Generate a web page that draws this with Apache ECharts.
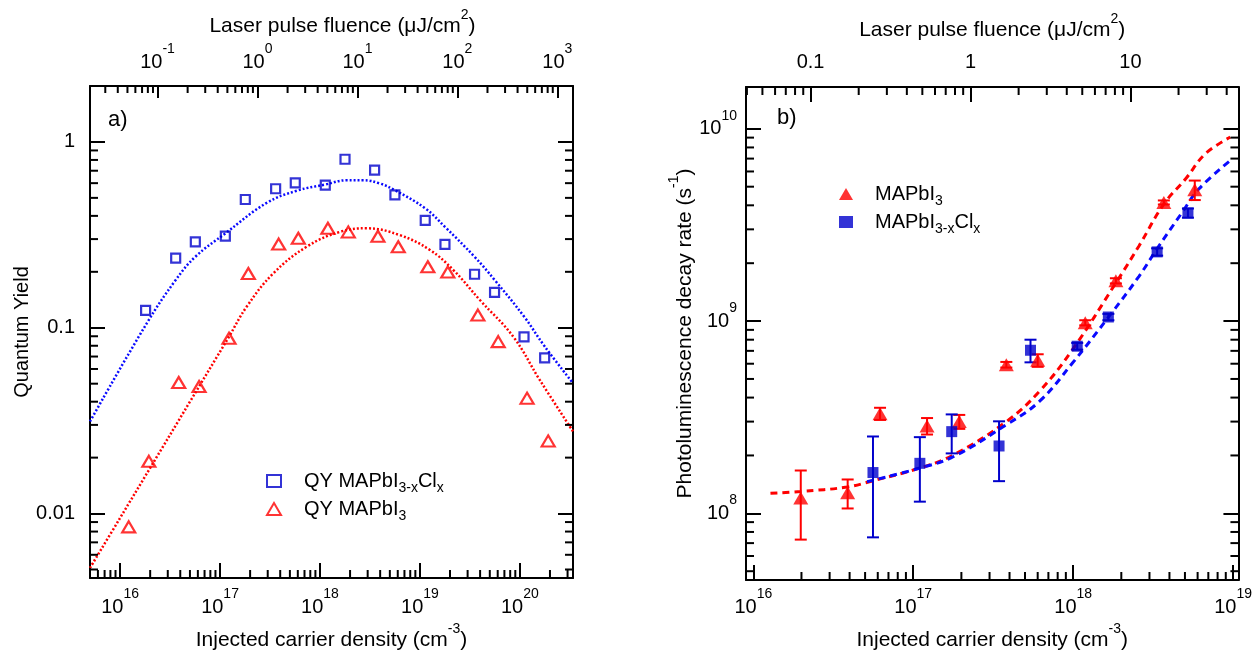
<!DOCTYPE html>
<html>
<head>
<meta charset="utf-8">
<script src="https://cdn.jsdelivr.net/npm/echarts@6/dist/echarts.min.js"></script>
<style>
  html, body { margin: 0; padding: 0; background: #fff; }
  #chart { width: 1255px; height: 659px; }
</style>
</head>
<body>
<div id="chart"></div>
<script>
// ---------- Panel a: quantum yield vs injected carrier density ----------
const qyClDensity = [1.8e16, 3.6e16, 5.66e16, 1.13e17, 1.79e17, 3.6e17, 5.66e17, 1.13e18, 1.78e18, 3.52e18, 5.62e18, 1.13e19, 1.78e19, 3.52e19, 5.58e19, 1.1e20, 1.77e20];
const qyClValues  = [0.124, 0.237, 0.290, 0.311, 0.490, 0.56, 0.602, 0.585, 0.807, 0.705, 0.519, 0.378, 0.281, 0.194, 0.155, 0.0893, 0.0688];
const qyIDensity  = [1.22e16, 1.94e16, 3.86e16, 6.17e16, 1.23e17, 1.92e17, 3.86e17, 6.07e17, 1.2e18, 1.92e18, 3.8e18, 6.07e18, 1.2e19, 1.9e19, 3.8e19, 6.07e19, 1.18e20, 1.92e20];
const qyIValues   = [0.00848, 0.0191, 0.0507, 0.0483, 0.0878, 0.196, 0.282, 0.303, 0.343, 0.328, 0.311, 0.273, 0.213, 0.1995, 0.117, 0.0842, 0.0418, 0.0246];

// model curves (dotted)
const fitClDensity = [5e15, 1.85e16, 3.6e16, 5.66e16, 1.13e17, 2.93e17, 5.85e17, 1.13e18, 1.86e18, 2.7e18, 4e18, 5.62e18, 1.13e19, 1.78e19, 3.52e19, 5.58e19, 1.1e20, 1.77e20, 3.4e20];
const fitClValues  = [0.0313, 0.1057, 0.1807, 0.241, 0.322, 0.470, 0.546, 0.590, 0.622, 0.622, 0.597, 0.550, 0.439, 0.349, 0.241, 0.181, 0.115, 0.0794, 0.0503];
const fitIDensity  = [5e15, 1e16, 2e16, 5e16, 1.22e17, 1.85e17, 3.41e17, 7.36e17, 1.58e18, 2.93e18, 6.3e18, 1.26e19, 2.15e19, 3.98e19, 8.57e19, 1.58e20, 3.4e20];
const fitIValues   = [0.0051, 0.00947, 0.0176, 0.040, 0.0889, 0.130, 0.196, 0.273, 0.328, 0.343, 0.315, 0.262, 0.205, 0.141, 0.0896, 0.0524, 0.0277];

// ---------- Panel b: photoluminescence decay rate ----------
const rateIDensity  = [1.98e16, 3.89e16, 6.2e16, 1.22e17, 1.94e17, 3.82e17, 6.0e17, 1.19e18, 1.85e18, 3.69e18, 5.76e18];
const rateIValues   = [1.20e8, 1.28e8, 3.30e8, 2.85e8, 3.0e8, 5.93e8, 6.25e8, 9.8e8, 1.62e9, 4.14e9, 4.82e9];
const rateIErrors   = [0.47e8, 0.22e8, 0.24e8, 0.28e8, 0.25e8, 0.2e8, 0.47e8, 0.3e8, 0.5e8, 1.0e8, 0.56e9];
const rateClDensity = [5.6e16, 1.10e17, 1.74e17, 3.44e17, 5.41e17, 1.06e18, 1.66e18, 3.35e18, 5.22e18];
const rateClValues  = [1.63e8, 1.82e8, 2.66e8, 2.24e8, 7.05e8, 7.4e8, 1.05e9, 2.29e9, 3.65e9];
const rateClErrors  = [0.88e8, 0.67e8, 0.61e8, 0.77e8, 0.95e8, 0.3e8, 0.4e8, 0.1e9, 0.2e9];

// model curves (dashed)
const rateFitIDensity  = [1.28e16, 1.98e16, 3.85e16, 5.65e16, 1.10e17, 1.78e17, 3.82e17, 6.15e17, 9.9e17, 1.85e18, 2.58e18, 3.69e18, 5.04e18, 6.7e18, 9.6e18];
const rateFitIValues   = [1.27e8, 1.30e8, 1.37e8, 1.48e8, 1.72e8, 2.01e8, 3.0e8, 4.31e8, 7.1e8, 1.58e9, 2.46e9, 4.06e9, 5.48e9, 7.41e9, 9.05e9];
const rateFitClDensity = [5.14e16, 1.10e17, 1.78e17, 3.82e17, 6.15e17, 9.9e17, 1.68e18, 2.58e18, 3.35e18, 4.8e18, 6.1e18, 9.6e18];
const rateFitClValues  = [1.46e8, 1.72e8, 1.97e8, 2.89e8, 3.82e8, 6.05e8, 1.06e9, 1.71e9, 2.38e9, 3.67e9, 4.86e9, 6.84e9];

// ---------- axis ranges and tick labels ----------
const densityRangeA = [5e15, 3.4e20];
const qyRange = [0.0045, 2];
const densityRangeB = [9e15, 1.08e19];
const rateRange = [4.5e7, 1.65e10];
const carriersPerFluenceA = 2.37e17;   // cm^-3 per (μJ/cm^2)
const carriersPerFluenceB = 2.28e17;

const densityExpA = [16, 17, 18, 19, 20];
const fluenceExpA = [-1, 0, 1, 2, 3];
const qyTickExp = [-2, -1, 0];
const qyTickLabels = ['0.01', '0.1', '1'];
const densityExpB = [16, 17, 18, 19];
const fluenceTickExpB = [-1, 0, 1];
const fluenceTickLabelsB = ['0.1', '1', '10'];
const rateExpB = [8, 9, 10];

const FONT = 'Liberation Sans, Arial, Helvetica, sans-serif';
const BLUE = '#0000cc';
const BLUE_LINE = '#0a0aff';
const RED = '#ff0000';

function exponentOf(v) {
  const e = Math.log10(v);
  const r = Math.round(e);
  return Math.abs(e - r) < 1e-6 ? r : null;
}
function powerLabel(exps) {
  return v => {
    const e = exponentOf(v);
    return (e !== null && exps.includes(e)) ? '{b|10}{s|' + e + '}' : '';
  };
}
function listLabel(exps, labels) {
  return v => {
    const e = exponentOf(v);
    const i = e === null ? -1 : exps.indexOf(e);
    return i >= 0 ? labels[i] : '';
  };
}
const supRich = {
  b: { fontSize: 20, lineHeight: 40, fontFamily: FONT, color: '#000' },
  t: { fontSize: 21, lineHeight: 36, fontFamily: FONT, color: '#000' },
  s: { fontSize: 14, lineHeight: 14, verticalAlign: 'top', fontFamily: FONT, color: '#000' }
};
const subRich = {
  f: { fontSize: 20, lineHeight: 28, fontFamily: FONT, color: '#000' },
  n: { fontSize: 20, lineHeight: 28, fontFamily: FONT, color: '#000' },
  s: { fontSize: 14, lineHeight: 14, verticalAlign: 'bottom', fontFamily: FONT, color: '#000' }
};

// minor tick values 2..9 x 10^k inside a range
function minorTicks(range) {
  const out = [];
  const e0 = Math.floor(Math.log10(range[0])), e1 = Math.ceil(Math.log10(range[1]));
  for (let e = e0; e <= e1; e++) {
    for (let m = 2; m <= 9; m++) {
      const v = m * Math.pow(10, e);
      if (v > range[0] * 1.0001 && v < range[1] * 0.9999) out.push(v);
    }
  }
  return out;
}

const axisLine = { show: true, onZero: false, lineStyle: { color: '#000', width: 2 } };
function baseAxis(extra) {
  return Object.assign({
    type: 'log', logBase: 10,
    axisLine: axisLine,
    axisTick: { show: true, inside: true, length: 15, lineStyle: { color: '#000', width: 2 } },
    splitLine: { show: false },
    minorTick: { show: false },
    nameTextStyle: { fontSize: 21, fontFamily: FONT, color: '#000', rich: supRich }
  }, extra);
}

// tick marks drawn along one side of a grid (minor ticks and mirrored majors)
function tickSeries(xIdx, yIdx, side, len, values, ref) {
  const data = values.map(v => (side === 'top' || side === 'bottom') ? [v, ref] : [ref, v]);
  return {
    type: 'custom', xAxisIndex: xIdx, yAxisIndex: yIdx, silent: true, clip: false, z: 5,
    data: data,
    renderItem: (params, api) => {
      const cs = params.coordSys;
      const p = api.coord([api.value(0), api.value(1)]);
      let x1, y1, x2, y2;
      if (side === 'bottom') { x1 = x2 = p[0]; y1 = cs.y + cs.height; y2 = y1 - len; }
      else if (side === 'top') { x1 = x2 = p[0]; y1 = cs.y; y2 = y1 + len; }
      else if (side === 'left') { y1 = y2 = p[1]; x1 = cs.x; x2 = x1 + len; }
      else { y1 = y2 = p[1]; x1 = cs.x + cs.width; x2 = x1 - len; }
      return { type: 'line', shape: { x1, y1, x2, y2 }, style: { stroke: '#000', lineWidth: 2 } };
    }
  };
}

function errorBarSeries(name, density, values, errors, color) {
  return {
    type: 'custom', name: name + ' error', xAxisIndex: 2, yAxisIndex: 2, silent: true, z: 3,
    data: density.map((d, i) => [d, values[i], errors[i]]),
    renderItem: (params, api) => {
      const d = api.value(0), v = api.value(1), e = api.value(2);
      const top = api.coord([d, v + e]);
      const bot = api.coord([d, v - e]);
      const x = top[0], hw = 6;
      const style = { stroke: color, lineWidth: 2 };
      return {
        type: 'group',
        children: [
          { type: 'line', shape: { x1: x, y1: top[1], x2: x, y2: bot[1] }, style },
          { type: 'line', shape: { x1: x - hw, y1: top[1], x2: x + hw, y2: top[1] }, style },
          { type: 'line', shape: { x1: x - hw, y1: bot[1], x2: x + hw, y2: bot[1] }, style }
        ]
      };
    }
  };
}

const zip = (a, b) => a.map((v, i) => [v, b[i]]);
const legendNames = {
  'QY MAPbI3-xClx': '{f|QY MAPbI}{s|3-x}{n|Cl}{s|x}',
  'QY MAPbI3': '{f|QY MAPbI}{s|3}',
  'MAPbI3': '{f|MAPbI}{s|3}',
  'MAPbI3-xClx': '{f|MAPbI}{s|3-x}{n|Cl}{s|x}'
};

const fluenceRangeA = densityRangeA.map(v => v / carriersPerFluenceA);
const fluenceRangeB = densityRangeB.map(v => v / carriersPerFluenceB);

const densityTitle = '{t|Injected carrier density (cm}{s|-3}{t|)}';
const fluenceTitle = '{t|Laser pulse fluence (μJ/cm}{s|2}{t|)}';

const option = {
  animation: false,
  backgroundColor: '#fff',
  textStyle: { fontFamily: FONT },
  grid: [
    { left: 90, top: 86, width: 483, height: 492 },
    { left: 746, top: 87, width: 493, height: 493 }
  ],
  xAxis: [
    baseAxis({
      gridIndex: 0, position: 'bottom', min: densityRangeA[0], max: densityRangeA[1],
      axisLabel: { margin: 9, formatter: powerLabel(densityExpA), rich: supRich },
      name: densityTitle, nameLocation: 'middle', nameGap: 44
    }),
    baseAxis({
      gridIndex: 0, position: 'top', min: fluenceRangeA[0], max: fluenceRangeA[1],
      axisTick: { show: true, inside: true, length: 12, lineStyle: { color: '#000', width: 2 } },
      axisLabel: { margin: 4, formatter: powerLabel(fluenceExpA), rich: supRich },
      name: fluenceTitle, nameLocation: 'middle', nameGap: 40,
      nameTextStyle: { fontSize: 21, fontFamily: FONT, color: '#000', rich: supRich, padding: [0, 0, 0, 22] }
    }),
    baseAxis({
      gridIndex: 1, position: 'bottom', min: densityRangeB[0], max: densityRangeB[1],
      axisLabel: { margin: 7, formatter: powerLabel(densityExpB), rich: supRich },
      name: densityTitle, nameLocation: 'middle', nameGap: 42
    }),
    baseAxis({
      gridIndex: 1, position: 'top', min: fluenceRangeB[0], max: fluenceRangeB[1],
      axisLabel: { margin: 15, formatter: listLabel(fluenceTickExpB, fluenceTickLabelsB),
        fontSize: 20, lineHeight: 20, fontFamily: FONT, color: '#000' },
      name: fluenceTitle, nameLocation: 'middle', nameGap: 39
    })
  ],
  yAxis: [
    baseAxis({
      gridIndex: 0, position: 'left', min: qyRange[0], max: qyRange[1],
      axisLabel: { margin: 15, formatter: listLabel(qyTickExp, qyTickLabels),
        fontSize: 20, fontFamily: FONT, color: '#000' },
      name: 'Quantum Yield', nameLocation: 'middle', nameGap: 58,
      nameTextStyle: { fontSize: 20, fontFamily: FONT, color: '#000' }
    }),
    baseAxis({
      gridIndex: 0, position: 'right', min: qyRange[0], max: qyRange[1],
      axisLabel: { show: false }
    }),
    baseAxis({
      gridIndex: 1, position: 'left', min: rateRange[0], max: rateRange[1],
      axisLabel: { margin: 9, formatter: powerLabel(rateExpB), rich: supRich },
      name: '{t|Photoluminescence decay rate (s}{s|-1}{t|)}', nameLocation: 'middle', nameGap: 40
    }),
    baseAxis({
      gridIndex: 1, position: 'right', min: rateRange[0], max: rateRange[1],
      axisLabel: { show: false }
    })
  ],
  legend: [
    {
      orient: 'vertical', left: 266, top: 471, padding: 0, itemWidth: 14, itemHeight: 12, itemGap: 4,
      selectedMode: false,
      data: ['QY MAPbI3-xClx', 'QY MAPbI3'],
      formatter: n => legendNames[n],
      textStyle: { rich: Object.assign({}, subRich, { f: Object.assign({}, subRich.f, { padding: [0, 0, 0, 18] }) }) }
    },
    {
      orient: 'vertical', left: 839, top: 184, padding: 0, itemWidth: 14, itemHeight: 12, itemGap: 4,
      selectedMode: false,
      data: ['MAPbI3', 'MAPbI3-xClx'],
      formatter: n => legendNames[n],
      textStyle: { rich: Object.assign({}, subRich, { f: Object.assign({}, subRich.f, { padding: [0, 0, 0, 17] }) }) }
    }
  ],
  graphic: [
    { type: 'text', left: 108, top: 109, style: { text: 'a)', fontSize: 22, fontFamily: FONT, fill: '#000' } },
    { type: 'text', left: 777, top: 107, style: { text: 'b)', fontSize: 22, fontFamily: FONT, fill: '#000' } }
  ],
  series: [
    // panel a
    { type: 'line', xAxisIndex: 0, yAxisIndex: 0, data: zip(fitClDensity, fitClValues), smooth: 0.4,
      showSymbol: false, silent: true, lineStyle: { color: BLUE_LINE, width: 2.5, type: [2, 2] }, z: 2 },
    { type: 'line', xAxisIndex: 0, yAxisIndex: 0, data: zip(fitIDensity, fitIValues), smooth: 0.4,
      showSymbol: false, silent: true, lineStyle: { color: RED, width: 2.5, type: [2, 2] }, z: 2 },
    { type: 'scatter', name: 'QY MAPbI3-xClx', xAxisIndex: 0, yAxisIndex: 0, data: zip(qyClDensity, qyClValues),
      symbol: 'rect', symbolSize: 9, itemStyle: { color: 'rgba(255,255,255,0)', borderColor: BLUE, borderWidth: 2.2 }, z: 4 },
    { type: 'scatter', name: 'QY MAPbI3', xAxisIndex: 0, yAxisIndex: 0, data: zip(qyIDensity, qyIValues),
      symbol: 'triangle', symbolSize: [13, 11], itemStyle: { color: 'rgba(255,255,255,0)', borderColor: RED, borderWidth: 2.2 }, z: 4 },
    // panel b
    { type: 'line', xAxisIndex: 2, yAxisIndex: 2, data: zip(rateFitIDensity, rateFitIValues), smooth: 0.4,
      showSymbol: false, silent: true, lineStyle: { color: RED, width: 3, type: [7, 5] }, z: 2 },
    { type: 'line', xAxisIndex: 2, yAxisIndex: 2, data: zip(rateFitClDensity, rateFitClValues), smooth: 0.4,
      showSymbol: false, silent: true, lineStyle: { color: BLUE_LINE, width: 3, type: [7, 5] }, z: 2 },
    errorBarSeries('MAPbI3', rateIDensity, rateIValues, rateIErrors, RED),
    errorBarSeries('MAPbI3-xClx', rateClDensity, rateClValues, rateClErrors, BLUE),
    { type: 'scatter', name: 'MAPbI3', xAxisIndex: 2, yAxisIndex: 2, data: zip(rateIDensity, rateIValues),
      symbol: 'triangle', symbolSize: [15, 13], itemStyle: { color: RED }, z: 4 },
    { type: 'scatter', name: 'MAPbI3-xClx', xAxisIndex: 2, yAxisIndex: 2, data: zip(rateClDensity, rateClValues),
      symbol: 'rect', symbolSize: 11, itemStyle: { color: BLUE }, z: 4 },
    // axis minor ticks and mirrored ticks
    tickSeries(0, 0, 'bottom', 8, minorTicks(densityRangeA), qyRange[0]),
    tickSeries(1, 0, 'top', 7, minorTicks(fluenceRangeA), qyRange[0]),
    tickSeries(0, 0, 'left', 8, minorTicks(qyRange), densityRangeA[0]),
    tickSeries(0, 0, 'right', 8, minorTicks(qyRange), densityRangeA[0]),
    tickSeries(2, 2, 'bottom', 8, minorTicks(densityRangeB), rateRange[0]),
    tickSeries(3, 2, 'top', 8, minorTicks(fluenceRangeB), rateRange[0]),
    tickSeries(2, 2, 'left', 8, minorTicks(rateRange), densityRangeB[0]),
    tickSeries(2, 2, 'right', 8, minorTicks(rateRange), densityRangeB[0])
  ]
};

const chart = echarts.init(document.getElementById('chart'), null, { renderer: 'canvas' });
chart.setOption(option);
</script>
</body>
</html>
